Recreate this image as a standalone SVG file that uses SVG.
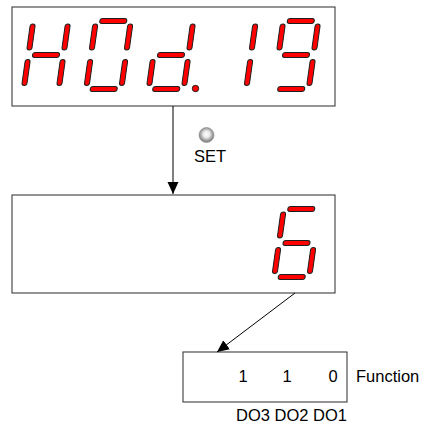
<svg xmlns="http://www.w3.org/2000/svg" xmlns:xlink="http://www.w3.org/1999/xlink" width="423" height="434" viewBox="0 0 423 434">
<style>
.box{fill:#fff;stroke:#3c3c3c;stroke-width:1.1}
.seg{fill:#ff0000;stroke:#1e1e1e;stroke-width:1}
.lbl{font-family:"Liberation Sans",Arial,sans-serif;font-size:16.5px;fill:#000}
.conn{stroke:#000;stroke-width:1;fill:none}
</style>
<defs>
<rect id="sa" x="-13.5" y="-36.5" width="27" height="5" rx="2.5"/>
<rect id="sg" x="-13.5" y="-2.5" width="27" height="5" rx="2.5"/>
<rect id="sd" x="-13.5" y="31.5" width="27" height="5" rx="2.5"/>
<rect id="sf" x="-20" y="-31" width="5" height="26" rx="2.5"/>
<rect id="sb" x="15" y="-31" width="5" height="26" rx="2.5"/>
<rect id="se" x="-20" y="4.5" width="5" height="26" rx="2.5"/>
<rect id="sc" x="15" y="4.5" width="5" height="26" rx="2.5"/>
<radialGradient id="btn" cx="50%" cy="45%" r="50%">
<stop offset="0" stop-color="#ffffff"/>
<stop offset="0.45" stop-color="#e8e8e8"/>
<stop offset="0.72" stop-color="#b0b0b0"/>
<stop offset="1" stop-color="#858585"/>
</radialGradient>
<marker id="arr" markerUnits="userSpaceOnUse" markerWidth="12" markerHeight="12" viewBox="0 0 12 12" refX="12" refY="6" orient="auto">
<path d="M0,0.5 L12,6 L0,11.5 z" fill="#000"/>
</marker>
</defs>

<g id="display1">
<rect class="box" x="12" y="7" width="323" height="99"/>
<g id="digit-H" class="seg" transform="translate(46,55) skewX(-8)">
<use xlink:href="#sf"/><use xlink:href="#sb"/><use xlink:href="#sg"/><use xlink:href="#se"/><use xlink:href="#sc"/>
</g>
<g id="digit-0" class="seg" transform="translate(108.5,55) skewX(-8)">
<use xlink:href="#sa"/><use xlink:href="#sf"/><use xlink:href="#sb"/><use xlink:href="#se"/><use xlink:href="#sc"/><use xlink:href="#sd"/>
</g>
<g id="digit-d" class="seg" transform="translate(171,55) skewX(-8)">
<use xlink:href="#sb"/><use xlink:href="#sg"/><use xlink:href="#se"/><use xlink:href="#sc"/><use xlink:href="#sd"/>
</g>
<circle class="seg" cx="195.5" cy="88.5" r="3.2"/>
<g id="digit-1" class="seg" transform="translate(233.5,55) skewX(-8)">
<use xlink:href="#sb"/><use xlink:href="#sc"/>
</g>
<g id="digit-9" class="seg" transform="translate(296,55) skewX(-8)">
<use xlink:href="#sa"/><use xlink:href="#sf"/><use xlink:href="#sb"/><use xlink:href="#sg"/><use xlink:href="#sc"/><use xlink:href="#sd"/>
</g>
</g>

<g id="set-button">
<circle cx="206.5" cy="135" r="7.5" fill="url(#btn)" stroke="#8a8a8a" stroke-width="0.6"/>
<text class="lbl" x="210" y="162" text-anchor="middle">SET</text>
</g>

<g id="display2">
<rect class="box" x="12" y="195" width="323" height="98"/>
<g id="digit-6" class="seg" transform="translate(296.5,243) skewX(-8)">
<use xlink:href="#sa"/><use xlink:href="#sf"/><use xlink:href="#sg"/><use xlink:href="#se"/><use xlink:href="#sc"/><use xlink:href="#sd"/>
</g>
</g>

<g id="bits">
<rect class="box" x="183" y="352" width="164" height="50"/>
<text class="lbl" x="243" y="382" text-anchor="middle">1</text>
<text class="lbl" x="287" y="382" text-anchor="middle">1</text>
<text class="lbl" x="333" y="382" text-anchor="middle">0</text>
<text class="lbl" x="356" y="382">Function</text>
<text class="lbl" x="236" y="421">DO3 DO2 DO1</text>
</g>

<g id="connectors">
<line class="conn" x1="173" y1="106" x2="173" y2="194" marker-end="url(#arr)"/>
<line class="conn" x1="295" y1="293" x2="217" y2="352" marker-end="url(#arr)"/>
</g>
</svg>
